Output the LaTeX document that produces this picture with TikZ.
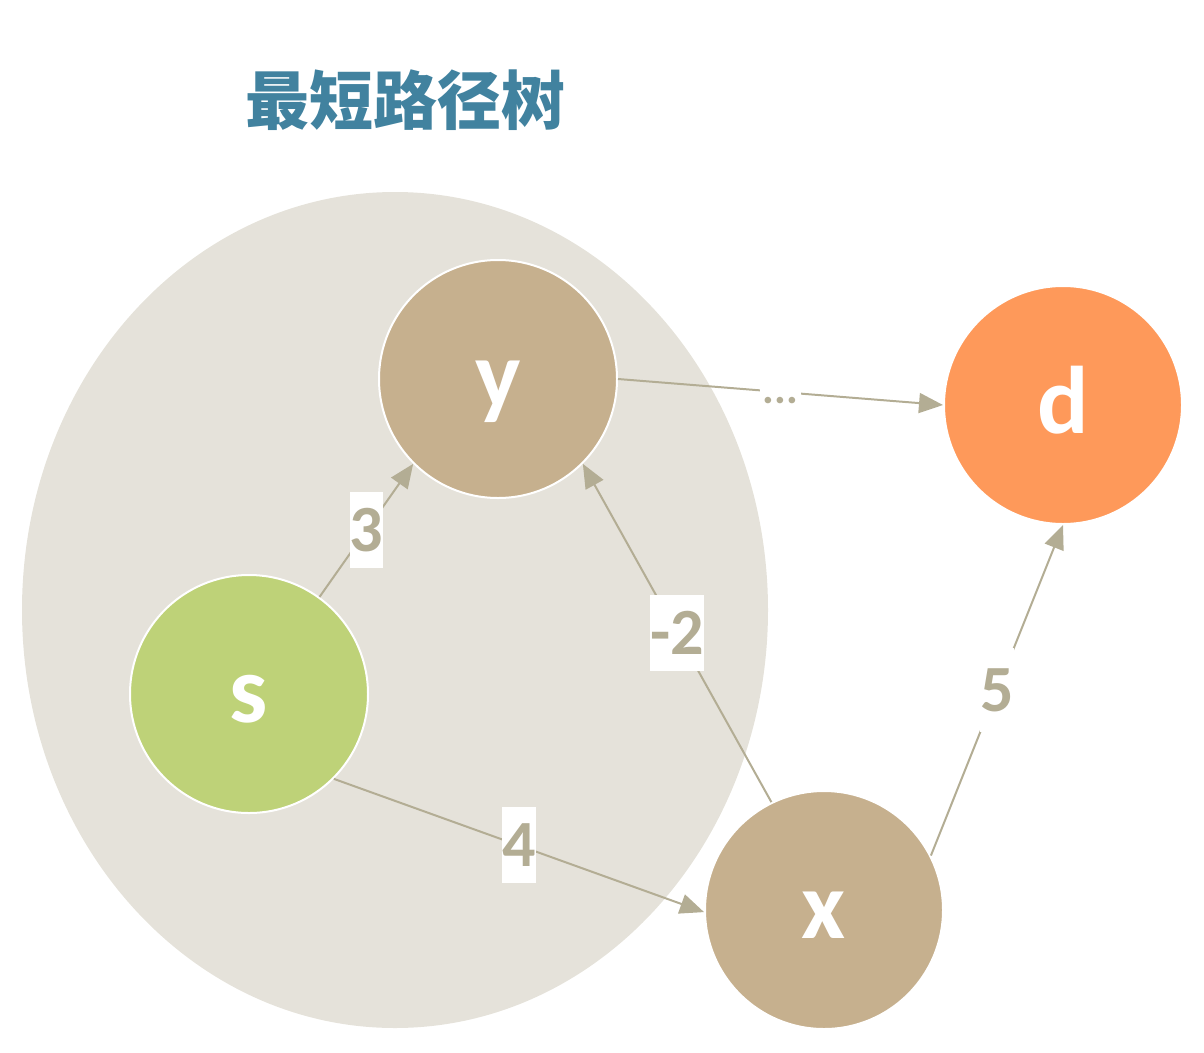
\documentclass[tikz,border=0pt]{standalone}
\usepackage{fontspec}
\newfontfamily\cjk{Noto Sans CJK SC}
\newfontfamily\lab{Carlito}
\usetikzlibrary{arrows.meta}

\definecolor{treegray}{HTML}{E5E2DA}
\definecolor{edgegray}{HTML}{B3AD94}
\definecolor{tan}{HTML}{C6B08E}
\definecolor{leaf}{HTML}{BED278}
\definecolor{dest}{HTML}{FE995A}
\definecolor{title}{HTML}{41829F}

\begin{document}
\begin{tikzpicture}[x=1pt,y=-1pt,
  vertex/.style={circle,draw=white,line width=2pt,minimum size=238pt,text=white,
    font=\lab\bfseries\fontsize{96}{96}\selectfont,text height=56pt,text depth=0pt},
  weight/.style={fill=white,text=edgegray,inner sep=0pt,minimum height=76pt,
    font=\lab\bfseries\fontsize{66}{66}\selectfont}]
  \useasboundingbox (0,0) rectangle (1204,1052);
  \fill[treegray] (395,610) ellipse [x radius=373, y radius=418];
  \node at (405,100) (head) [text=title,font=\cjk\bfseries\fontsize{64}{64}\selectfont] {最短路径树};
  \node at (498,379) (y) [vertex,fill=tan] {y};
  \node at (249,694) (s) [vertex,fill=leaf] {s};
  \node at (824,910) (x) [vertex,fill=tan] {x};
  \node at (1063,405) (d) [vertex,fill=dest] {d};
  \path[-{Triangle[length=24pt,width=20pt]},color=edgegray,line width=2pt]
	      (s.54) edge node[weight] {3} (y.225)
	      (x.116) edge node[weight] {-2} (y.315)
	      (s.315) edge node[weight] {4} (x.181)
	      (x.27) edge node[weight,minimum height=84pt] {5} (d.270)
	      (y.0) edge node[weight,minimum height=30pt,inner xsep=3pt,text height=22pt,
	        text depth=0pt,font=\lab\bfseries\fontsize{44}{44}\selectfont] {...} (d.180)
	      ;
 \end{tikzpicture}
\end{document}
